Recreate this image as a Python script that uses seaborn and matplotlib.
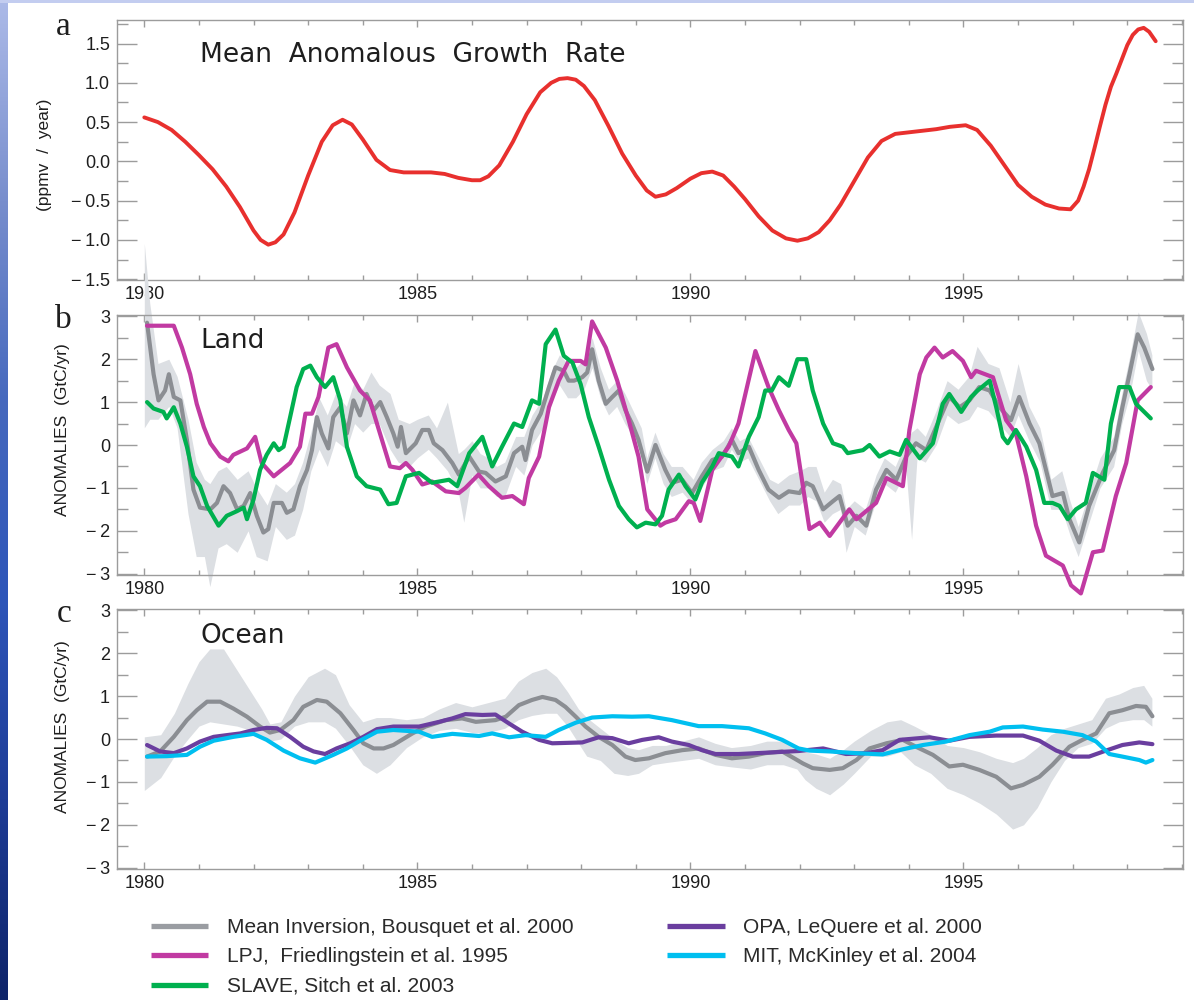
import numpy as np
import matplotlib
matplotlib.use("Agg")
import matplotlib.pyplot as plt
from matplotlib.lines import Line2D
from matplotlib.ticker import MultipleLocator, FixedLocator, FuncFormatter
import seaborn as sns

# ---------------- panel a: mean anomalous growth rate (ppmv / year)
growth_year = [1980.0, 1980.25, 1980.5, 1980.75, 1981.0, 1981.25, 1981.5, 1981.75, 1982.0, 1982.13,
               1982.27, 1982.4, 1982.55, 1982.75, 1983.0, 1983.25, 1983.45, 1983.63, 1983.8, 1984.0,
               1984.25, 1984.5, 1984.75, 1985.0, 1985.25, 1985.5, 1985.75, 1986.0, 1986.15, 1986.3,
               1986.5, 1986.75, 1987.0, 1987.25, 1987.45, 1987.6, 1987.75, 1987.9, 1988.05, 1988.25,
               1988.5, 1988.75, 1989.0, 1989.2, 1989.36, 1989.55, 1989.75, 1990.0, 1990.2, 1990.4,
               1990.6, 1990.8, 1991.0, 1991.25, 1991.5, 1991.75, 1991.96, 1992.15, 1992.35, 1992.55,
               1992.75, 1993.0, 1993.25, 1993.5, 1993.75, 1994.0, 1994.25, 1994.5, 1994.75, 1995.04,
               1995.25, 1995.5, 1995.75, 1996.0, 1996.25, 1996.5, 1996.75, 1996.96, 1997.1, 1997.2,
               1997.3, 1997.4, 1997.5, 1997.6, 1997.7, 1997.8, 1997.9, 1998.0, 1998.1, 1998.2,
               1998.3, 1998.4, 1998.52]
growth_rate = [0.56, 0.50, 0.40, 0.25, 0.08, -0.10, -0.32, -0.58, -0.88, -1.00,
               -1.06, -1.03, -0.93, -0.65, -0.18, 0.25, 0.46, 0.53, 0.47, 0.28,
               0.02, -0.11, -0.14, -0.14, -0.14, -0.16, -0.21, -0.24, -0.24, -0.19,
               -0.05, 0.25, 0.60, 0.88, 1.00, 1.05, 1.06, 1.04, 0.96, 0.78,
               0.45, 0.10, -0.18, -0.37, -0.45, -0.42, -0.34, -0.22, -0.15, -0.13,
               -0.18, -0.32, -0.48, -0.70, -0.88, -0.98, -1.01, -0.98, -0.90, -0.75,
               -0.55, -0.25, 0.05, 0.26, 0.35, 0.37, 0.39, 0.41, 0.44, 0.46,
               0.40, 0.20, -0.05, -0.30, -0.45, -0.55, -0.60, -0.61, -0.50, -0.32,
               -0.10, 0.17, 0.45, 0.72, 0.95, 1.12, 1.30, 1.48, 1.61, 1.68,
               1.70, 1.65, 1.53]

# ---------------- panel b: land flux anomalies (GtC/yr)
inv_land_year = [1980.05, 1980.17, 1980.26, 1980.38, 1980.45, 1980.54, 1980.66, 1980.78, 1980.9, 1981.02,
                 1981.21, 1981.33, 1981.45, 1981.57, 1981.7, 1981.82, 1981.94, 1982.06, 1982.18, 1982.27,
                 1982.37, 1982.52, 1982.61, 1982.73, 1982.85, 1982.98, 1983.07, 1983.16, 1983.25, 1983.37,
                 1983.46, 1983.59, 1983.71, 1983.83, 1983.95, 1984.07, 1984.2, 1984.32, 1984.44, 1984.56,
                 1984.64, 1984.7, 1984.79, 1984.97, 1985.09, 1985.21, 1985.3, 1985.46, 1985.64, 1985.76,
                 1985.95, 1986.13, 1986.25, 1986.43, 1986.62, 1986.77, 1986.92, 1986.98, 1987.1, 1987.26,
                 1987.41, 1987.53, 1987.68, 1987.77, 1987.87, 1988.02, 1988.11, 1988.2, 1988.32, 1988.45,
                 1988.57, 1988.69, 1988.81, 1988.93, 1989.05, 1989.21, 1989.36, 1989.54, 1989.66, 1989.85,
                 1990.03, 1990.21, 1990.4, 1990.58, 1990.76, 1990.88, 1991.07, 1991.25, 1991.43, 1991.62,
                 1991.8, 1992.0, 1992.12, 1992.24, 1992.43, 1992.61, 1992.73, 1992.88, 1993.04, 1993.22,
                 1993.4, 1993.59, 1993.77, 1993.95, 1994.13, 1994.32, 1994.5, 1994.74, 1994.93, 1995.11,
                 1995.29, 1995.48, 1995.66, 1995.87, 1996.02, 1996.21, 1996.39, 1996.63, 1996.82, 1996.94,
                 1997.12, 1997.3, 1997.55, 1997.76, 1997.91, 1998.04, 1998.19, 1998.31, 1998.46]
inv_land = [2.85, 1.65, 1.04, 1.27, 1.65, 1.12, 1.04, 0.12, -1.04, -1.46,
            -1.50, -1.35, -0.96, -1.12, -1.50, -1.42, -1.12, -1.65, -2.04, -1.96,
            -1.35, -1.35, -1.58, -1.50, -0.96, -0.58, -0.12, 0.65, 0.27, -0.08,
            0.65, 0.88, 0.27, 1.04, 0.69, 1.19, 0.81, 1.00, 0.65, 0.27,
            -0.04, 0.42, -0.19, 0.04, 0.35, 0.35, 0.04, -0.12, -0.42, -0.69,
            -0.27, -0.62, -0.65, -0.85, -0.73, -0.19, -0.04, -0.35, 0.35, 0.73,
            1.35, 1.81, 1.73, 1.50, 1.50, 1.58, 1.69, 2.23, 1.50, 0.96,
            1.12, 1.27, 0.81, 0.50, 0.12, -0.62, 0.00, -0.58, -0.88, -0.81,
            -1.12, -0.73, -0.35, -0.27, 0.12, -0.19, -0.04, -0.58, -1.04, -1.23,
            -1.08, -1.12, -0.88, -0.96, -1.50, -1.31, -1.19, -1.88, -1.65, -1.88,
            -1.04, -0.58, -0.81, -0.27, 0.04, -0.12, 0.42, 1.12, 0.88, 1.04,
            1.35, 1.27, 0.88, 0.58, 1.12, 0.50, 0.04, -1.19, -1.12, -1.73,
            -2.27, -1.42, -0.65, -0.12, 0.88, 1.65, 2.58, 2.27, 1.77]

band_land_year = [1980.0, 1980.1, 1980.25, 1980.45, 1980.6, 1980.8, 1980.95, 1981.1, 1981.2, 1981.35,
                  1981.5, 1981.7, 1981.9, 1982.05, 1982.25, 1982.4, 1982.6, 1982.75, 1982.9, 1983.05,
                  1983.2, 1983.35, 1983.5, 1983.7, 1983.85, 1984.0, 1984.15, 1984.3, 1984.5, 1984.65,
                  1984.85, 1985.0, 1985.2, 1985.35, 1985.55, 1985.75, 1985.85, 1986.0, 1986.15, 1986.3,
                  1986.45, 1986.6, 1986.8, 1986.95, 1987.1, 1987.3, 1987.45, 1987.6, 1987.75, 1987.9,
                  1988.05, 1988.2, 1988.35, 1988.5, 1988.65, 1988.8, 1988.95, 1989.1, 1989.2, 1989.35,
                  1989.5, 1989.65, 1989.85, 1990.05, 1990.2, 1990.4, 1990.6, 1990.75, 1990.9, 1991.05,
                  1991.25, 1991.45, 1991.6, 1991.8, 1992.0, 1992.15, 1992.3, 1992.45, 1992.6, 1992.75,
                  1992.85, 1993.0, 1993.2, 1993.4, 1993.55, 1993.75, 1993.95, 1994.05, 1994.15, 1994.3,
                  1994.5, 1994.7, 1994.9, 1995.1, 1995.25, 1995.45, 1995.65, 1995.85, 1996.0, 1996.2,
                  1996.4, 1996.6, 1996.8, 1996.95, 1997.1, 1997.3, 1997.5, 1997.75, 1997.9, 1998.05,
                  1998.2, 1998.35, 1998.45]
band_land_low = [0.4, 0.6, 0.6, 0.9, 0.4, -1.6, -2.6, -2.6, -3.3, -2.4,
                 -2.3, -2.5, -2.0, -2.6, -2.7, -1.9, -2.2, -2.1, -1.5, -0.6,
                 -0.1, -0.5, 0.1, -0.1, 0.5, 0.3, 0.5, 0.5, -0.1, -0.4,
                 -0.5, -0.3, -0.1, -0.3, -0.6, -1.1, -1.8, -0.7, -1.0, -1.0,
                 -1.2, -1.2, -0.5, -0.7, 0.0, 0.4, 1.0, 1.4, 1.1, 1.1,
                 1.3, 1.8, 1.1, 0.7, 0.9, 0.5, 0.2, -0.2, -0.9, -0.3,
                 -0.9, -1.2, -1.1, -1.4, -1.0, -0.6, -0.5, -0.1, -0.4, -0.3,
                 -0.8, -1.3, -1.6, -1.4, -1.4, -1.2, -1.3, -1.8, -1.6, -1.5,
                 -2.5, -1.9, -2.1, -1.3, -0.9, -1.1, -0.6, -2.2, -0.3, -0.4,
                 0.0, 0.7, 0.5, 0.6, 0.9, 0.8, 0.5, 0.2, 0.7, 0.1,
                 -0.4, -1.5, -1.5, -2.1, -2.6, -1.8, -1.0, -0.5, 0.5, 1.2,
                 2.2, 1.5, 1.3]
band_land_high = [4.7, 3.3, 1.9, 2.0, 1.6, 0.6, -0.4, -0.8, -0.9, -0.6,
                  -0.5, -0.8, -0.6, -1.0, -1.4, -0.9, -1.1, -0.9, -0.4, 0.3,
                  1.1, 0.7, 1.2, 0.9, 1.5, 1.3, 1.7, 1.4, 1.2, 0.6,
                  0.5, 0.6, 0.7, 0.4, 1.0, -0.2, -0.1, 0.1, -0.2, -0.3,
                  -0.5, -0.4, 0.2, 0.2, 0.7, 1.1, 1.7, 2.1, 1.9, 1.8,
                  2.0, 2.5, 1.8, 1.3, 1.5, 1.2, 0.8, 0.4, -0.3, 0.3,
                  -0.2, -0.5, -0.5, -0.8, -0.4, -0.1, 0.1, 0.4, 0.1, 0.2,
                  -0.3, -0.8, -0.9, -0.7, -0.6, -0.5, -0.5, -1.1, -0.8, -0.9,
                  -1.5, -1.3, -1.5, -0.7, -0.3, -0.5, 0.1, 0.3, 0.4, 0.2,
                  0.8, 1.5, 1.3, 1.6, 2.3, 1.9, 1.8, 1.0, 1.9, 0.9,
                  0.4, -0.8, -0.6, -1.3, -1.9, -1.1, -0.3, 0.2, 1.2, 2.1,
                  3.1, 2.6, 2.1]

lpj_year = [1980.05, 1980.54, 1980.69, 1980.84, 1980.96, 1981.09, 1981.21, 1981.39, 1981.54, 1981.63,
            1981.88, 1982.03, 1982.15, 1982.37, 1982.67, 1982.85, 1982.95, 1983.07, 1983.19, 1983.37,
            1983.52, 1983.71, 1983.95, 1984.13, 1984.26, 1984.5, 1984.68, 1984.79, 1984.91, 1985.09,
            1985.27, 1985.52, 1985.76, 1985.88, 1986.12, 1986.31, 1986.55, 1986.74, 1986.95, 1987.04,
            1987.23, 1987.41, 1987.59, 1987.77, 1987.99, 1988.08, 1988.2, 1988.45, 1988.66, 1988.87,
            1989.05, 1989.21, 1989.45, 1989.54, 1989.73, 1989.97, 1990.06, 1990.18, 1990.4, 1990.7,
            1990.88, 1991.19, 1991.43, 1991.62, 1991.8, 1991.94, 1992.18, 1992.37, 1992.55, 1992.91,
            1993.04, 1993.4, 1993.59, 1993.89, 1994.01, 1994.2, 1994.32, 1994.47, 1994.62, 1994.8,
            1994.99, 1995.14, 1995.23, 1995.54, 1995.78, 1995.96, 1996.15, 1996.33, 1996.51, 1996.82,
            1996.97, 1997.15, 1997.37, 1997.55, 1997.79, 1997.98, 1998.19, 1998.43]
lpj_land = [2.78, 2.78, 2.27, 1.65, 0.96, 0.42, 0.04, -0.27, -0.38, -0.23,
            -0.08, 0.19, -0.42, -0.73, -0.42, -0.04, 0.73, 0.73, 1.12, 2.27,
            2.35, 1.81, 1.27, 1.04, 0.50, -0.50, -0.54, -0.42, -0.58, -0.92,
            -0.85, -1.08, -1.12, -1.00, -0.69, -0.96, -1.23, -1.19, -1.38, -0.77,
            -0.27, 0.88, 1.50, 1.96, 1.96, 1.88, 2.88, 2.27, 1.50, 0.58,
            -0.27, -1.50, -1.88, -1.81, -1.73, -1.31, -1.35, -1.77, -0.58, -0.04,
            0.50, 2.19, 1.35, 0.81, 0.35, 0.04, -1.96, -1.81, -2.12, -1.50,
            -1.73, -1.35, -0.77, -0.96, 0.35, 1.65, 2.04, 2.27, 2.04, 2.19,
            1.96, 1.58, 1.73, 1.58, 0.58, 0.27, -0.73, -1.88, -2.58, -2.81,
            -3.27, -3.46, -2.50, -2.46, -1.19, -0.42, 1.04, 1.35]

slave_year = [1980.05, 1980.17, 1980.35, 1980.41, 1980.54, 1980.66, 1980.78, 1980.9, 1981.02, 1981.15,
              1981.36, 1981.51, 1981.7, 1981.82, 1981.88, 1982.0, 1982.12, 1982.24, 1982.37, 1982.46,
              1982.55, 1982.67, 1982.79, 1982.91, 1983.04, 1983.16, 1983.31, 1983.46, 1983.59, 1983.71,
              1983.89, 1984.07, 1984.32, 1984.47, 1984.62, 1984.79, 1985.03, 1985.27, 1985.58, 1985.73,
              1985.95, 1986.19, 1986.37, 1986.55, 1986.77, 1986.92, 1987.1, 1987.23, 1987.35, 1987.53,
              1987.68, 1987.84, 1987.99, 1988.14, 1988.32, 1988.51, 1988.69, 1988.87, 1989.02, 1989.18,
              1989.36, 1989.48, 1989.6, 1989.79, 1989.91, 1990.09, 1990.21, 1990.4, 1990.52, 1990.76,
              1990.88, 1991.07, 1991.25, 1991.37, 1991.49, 1991.62, 1991.8, 1991.96, 1992.12, 1992.24,
              1992.43, 1992.61, 1992.79, 1992.88, 1993.16, 1993.28, 1993.46, 1993.65, 1993.83, 1993.95,
              1994.2, 1994.44, 1994.62, 1994.74, 1994.96, 1995.14, 1995.26, 1995.48, 1995.6, 1995.72,
              1995.81, 1995.96, 1996.15, 1996.33, 1996.48, 1996.63, 1996.76, 1996.91, 1997.06, 1997.24,
              1997.37, 1997.58, 1997.7, 1997.85, 1998.04, 1998.16, 1998.43]
slave_land = [1.00, 0.85, 0.77, 0.62, 0.88, 0.50, -0.04, -0.73, -0.96, -1.42,
              -1.88, -1.65, -1.54, -1.46, -1.73, -1.27, -0.58, -0.23, 0.04, -0.12,
              -0.04, 0.65, 1.35, 1.77, 1.85, 1.58, 1.35, 1.58, 1.04, -0.04,
              -0.73, -0.96, -1.04, -1.38, -1.35, -0.73, -0.65, -0.88, -0.81, -0.96,
              -0.19, 0.19, -0.50, -0.04, 0.50, 0.42, 1.04, 0.96, 2.35, 2.69,
              2.08, 1.92, 1.42, 0.65, -0.04, -0.81, -1.42, -1.73, -1.92, -1.81,
              -1.85, -1.65, -1.04, -0.69, -0.96, -1.27, -0.88, -0.50, -0.19, -0.27,
              -0.50, 0.19, 0.65, 1.27, 1.27, 1.58, 1.38, 2.00, 2.00, 1.27,
              0.50, 0.04, -0.04, -0.19, -0.12, 0.00, -0.27, -0.15, -0.23, 0.12,
              -0.31, 0.04, 0.96, 1.19, 0.77, 1.12, 1.27, 1.50, 0.88, 0.19,
              0.04, 0.35, -0.04, -0.58, -1.35, -1.35, -1.42, -1.73, -1.50, -1.35,
              -0.65, -0.81, 0.50, 1.35, 1.35, 0.96, 0.62]

# ---------------- panel c: ocean flux anomalies (GtC/yr)
inv_ocean_year = [1980.05, 1980.29, 1980.54, 1980.78, 1980.96, 1981.15, 1981.39, 1981.63, 1981.88, 1982.12,
                  1982.3, 1982.49, 1982.73, 1982.91, 1983.16, 1983.34, 1983.59, 1983.83, 1984.01, 1984.2,
                  1984.38, 1984.56, 1984.91, 1985.15, 1985.52, 1985.82, 1986.07, 1986.43, 1986.62, 1986.86,
                  1987.1, 1987.29, 1987.53, 1987.71, 1987.9, 1988.08, 1988.32, 1988.57, 1988.81, 1988.99,
                  1989.24, 1989.54, 1989.85, 1990.15, 1990.46, 1990.76, 1991.07, 1991.37, 1991.68, 1991.9,
                  1992.06, 1992.24, 1992.55, 1992.79, 1993.04, 1993.28, 1993.59, 1993.89, 1994.13, 1994.44,
                  1994.74, 1994.99, 1995.29, 1995.6, 1995.87, 1996.09, 1996.39, 1996.63, 1996.94, 1997.18,
                  1997.43, 1997.67, 1997.91, 1998.16, 1998.34, 1998.46]
inv_ocean = [-0.41, -0.29, 0.05, 0.44, 0.67, 0.87, 0.87, 0.71, 0.52, 0.29,
             0.15, 0.21, 0.44, 0.75, 0.91, 0.87, 0.60, 0.21, -0.10, -0.22,
             -0.22, -0.14, 0.13, 0.29, 0.44, 0.48, 0.40, 0.44, 0.52, 0.79,
             0.91, 0.98, 0.91, 0.75, 0.52, 0.29, 0.05, -0.14, -0.41, -0.49,
             -0.45, -0.33, -0.26, -0.22, -0.37, -0.45, -0.41, -0.33, -0.29, -0.45,
             -0.57, -0.68, -0.72, -0.68, -0.49, -0.22, -0.10, -0.02, -0.18, -0.37,
             -0.64, -0.60, -0.72, -0.88, -1.15, -1.07, -0.88, -0.60, -0.18, -0.02,
             0.13, 0.60, 0.67, 0.77, 0.75, 0.53]

band_ocean_year = [1980.0, 1980.3, 1980.55, 1980.8, 1981.0, 1981.2, 1981.45, 1981.7, 1981.95, 1982.15,
                   1982.3, 1982.5, 1982.75, 1983.0, 1983.3, 1983.5, 1983.75, 1984.0, 1984.25, 1984.5,
                   1984.8, 1985.1, 1985.4, 1985.7, 1986.0, 1986.3, 1986.6, 1986.85, 1987.1, 1987.35,
                   1987.55, 1987.75, 1987.95, 1988.1, 1988.35, 1988.6, 1988.85, 1989.05, 1989.3, 1989.55,
                   1989.85, 1990.15, 1990.45, 1990.75, 1991.1, 1991.4, 1991.7, 1991.95, 1992.1, 1992.3,
                   1992.55, 1992.8, 1993.0, 1993.3, 1993.6, 1993.85, 1994.1, 1994.4, 1994.7, 1995.0,
                   1995.3, 1995.6, 1995.9, 1996.1, 1996.35, 1996.6, 1996.85, 1997.1, 1997.35, 1997.6,
                   1997.85, 1998.1, 1998.3, 1998.45]
band_ocean_low = [-1.20, -0.90, -0.40, 0.00, 0.30, 0.40, 0.35, 0.30, 0.20, 0.05,
                  -0.05, 0.00, 0.30, 0.40, 0.40, 0.25, -0.15, -0.60, -0.80, -0.60,
                  -0.20, 0.05, 0.20, 0.25, 0.15, 0.15, 0.25, 0.45, 0.55, 0.60,
                  0.60, 0.30, -0.10, -0.40, -0.50, -0.80, -0.85, -0.80, -0.60, -0.55,
                  -0.50, -0.45, -0.60, -0.65, -0.70, -0.60, -0.60, -0.70, -0.95, -1.15,
                  -1.30, -1.05, -0.80, -0.40, -0.40, -0.30, -0.60, -0.80, -1.15, -1.30,
                  -1.50, -1.75, -2.10, -2.00, -1.60, -1.00, -0.50, -0.20, -0.10, 0.25,
                  0.40, 0.45, 0.45, 0.30]
band_ocean_high = [0.05, 0.10, 0.60, 1.30, 1.80, 2.10, 2.10, 1.60, 1.10, 0.70,
                   0.35, 0.40, 1.00, 1.45, 1.65, 1.50, 0.80, 0.40, 0.50, 0.50,
                   0.45, 0.50, 0.70, 0.85, 0.75, 0.85, 0.95, 1.35, 1.55, 1.65,
                   1.45, 1.10, 0.70, 0.50, 0.25, 0.00, -0.20, -0.25, -0.15, -0.15,
                   -0.05, 0.05, -0.10, -0.20, -0.15, -0.05, -0.05, -0.15, -0.30, -0.35,
                   -0.45, -0.25, -0.05, 0.20, 0.40, 0.45, 0.30, 0.10, -0.15, -0.20,
                   -0.30, -0.45, -0.55, -0.45, -0.20, 0.10, 0.25, 0.35, 0.45, 0.95,
                   1.05, 1.20, 1.25, 0.95]

opa_year = [1980.05, 1980.29, 1980.54, 1980.78, 1981.02, 1981.27, 1981.51, 1981.76, 1982.0, 1982.24,
            1982.43, 1982.67, 1982.91, 1983.1, 1983.31, 1983.52, 1983.77, 1984.01, 1984.26, 1984.56,
            1985.03, 1985.4, 1985.64, 1985.88, 1986.19, 1986.43, 1986.68, 1986.92, 1987.23, 1987.47,
            1988.02, 1988.32, 1988.57, 1988.87, 1989.12, 1989.42, 1989.66, 1989.97, 1990.21, 1990.46,
            1990.88, 1991.37, 1991.98, 1992.43, 1992.85, 1993.22, 1993.52, 1993.83, 1994.38, 1994.74,
            1995.11, 1995.6, 1996.09, 1996.39, 1996.7, 1997.0, 1997.3, 1997.61, 1997.91, 1998.22,
            1998.46]
opa_ocean = [-0.14, -0.29, -0.33, -0.22, -0.06, 0.05, 0.09, 0.13, 0.21, 0.26,
             0.25, 0.05, -0.18, -0.29, -0.35, -0.22, -0.10, 0.05, 0.23, 0.29,
             0.29, 0.40, 0.48, 0.58, 0.56, 0.57, 0.36, 0.17, -0.02, -0.10,
             -0.08, 0.04, 0.02, -0.10, -0.02, 0.04, -0.06, -0.14, -0.26, -0.35,
             -0.35, -0.32, -0.28, -0.22, -0.35, -0.33, -0.26, -0.02, 0.04, -0.04,
             0.05, 0.08, 0.08, -0.04, -0.27, -0.41, -0.41, -0.27, -0.14, -0.08,
             -0.12]

mit_year = [1980.05, 1980.41, 1980.78, 1981.02, 1981.27, 1981.63, 1982.0, 1982.24, 1982.55, 1982.85,
            1983.13, 1983.46, 1983.71, 1983.95, 1984.26, 1984.56, 1985.03, 1985.27, 1985.64, 1986.13,
            1986.37, 1986.68, 1986.98, 1987.35, 1987.59, 1987.9, 1988.2, 1988.57, 1988.93, 1989.24,
            1989.66, 1990.15, 1990.58, 1991.07, 1991.37, 1991.68, 1991.98, 1992.18, 1992.55, 1993.04,
            1993.52, 1993.89, 1994.26, 1994.68, 1995.11, 1995.48, 1995.72, 1996.09, 1996.45, 1996.82,
            1997.18, 1997.43, 1997.67, 1997.91, 1998.22, 1998.34, 1998.46]
mit_ocean = [-0.41, -0.40, -0.37, -0.18, -0.04, 0.05, 0.12, -0.02, -0.27, -0.45,
             -0.55, -0.37, -0.22, -0.04, 0.17, 0.21, 0.17, 0.05, 0.12, 0.07,
             0.13, 0.04, 0.09, 0.05, 0.21, 0.38, 0.50, 0.53, 0.52, 0.53,
             0.44, 0.30, 0.30, 0.25, 0.13, -0.02, -0.22, -0.27, -0.29, -0.33,
             -0.36, -0.24, -0.14, -0.06, 0.09, 0.17, 0.27, 0.29, 0.22, 0.17,
             0.09, -0.06, -0.35, -0.41, -0.49, -0.55, -0.49]

year_ticks = [1980, 1985, 1990, 1995]

legend_labels = ["Mean Inversion, Bousquet et al. 2000",
                 "LPJ,  Friedlingstein et al. 1995",
                 "SLAVE, Sitch et al. 2003",
                 "OPA, LeQuere et al. 2000",
                 "MIT, McKinley et al. 2004"]

# colours
RED = "#e8302e"
GREY = "#8b8e93"
BAND = "#dcdfe3"
MAGENTA = "#c13aa2"
GREEN = "#00b04f"
PURPLE = "#6a3e9f"
CYAN = "#00bff0"
SPINE = "#9c9c9c"

sns.set_style("ticks")
plt.rcParams["font.family"] = ["Liberation Sans", "DejaVu Sans"]
plt.rcParams["axes.unicode_minus"] = True

W, H = 1194, 1000
fig = plt.figure(figsize=(W / 100, H / 100), dpi=100)
fig.patch.set_facecolor("white")

# blue slide border: left strip with a vertical gradient, thin strip along the top
stops = np.array([[172, 186, 232], [120, 142, 205], [70, 105, 190], [45, 85, 185], [30, 60, 150], [14, 36, 105]]) / 255.0
pos = np.linspace(0, 1, len(stops))
g = np.linspace(0, 1, 400)
grad = np.stack([np.interp(g, pos, stops[:, k]) for k in range(3)], axis=1)[:, None, :]
ax_strip = fig.add_axes([0, 0, 8 / W, 1])
ax_strip.imshow(grad, aspect="auto", extent=[0, 1, 0, 1])
ax_strip.set_axis_off()
ax_top = fig.add_axes([0, 1 - 3 / H, 1, 3 / H])
ax_top.set_facecolor("#c3cdf0")
ax_top.set_xticks([]); ax_top.set_yticks([])
for s in ax_top.spines.values():
    s.set_visible(False)


def fmt_minus(decimals):
    def f(v, _):
        v = round(v, 3) + 0.0
        txt = f"{abs(v):.{decimals}f}"
        return ("\u2212\u2009" + txt) if v < 0 else txt
    return FuncFormatter(f)


def panel(top_px, bottom_px, ylim, ymaj, ymin, decimals):
    ax = fig.add_axes([117 / W, 1 - bottom_px / H, (1183 - 117) / W, (bottom_px - top_px) / H])
    ax.set_xlim(1979.5, 1999.02)
    ax.set_ylim(*ylim)
    ax.xaxis.set_major_locator(FixedLocator(year_ticks))
    ax.xaxis.set_minor_locator(MultipleLocator(1))
    ax.yaxis.set_major_locator(MultipleLocator(ymaj))
    ax.yaxis.set_minor_locator(MultipleLocator(ymin))
    ax.yaxis.set_major_formatter(fmt_minus(decimals))
    ax.tick_params(which="both", direction="in", top=True, right=True, color=SPINE, width=1)
    ax.tick_params(axis="y", which="major", length=14.5, pad=5, labelsize=13)
    ax.tick_params(axis="y", which="minor", length=8)
    ax.tick_params(axis="x", which="major", length=5, pad=4.5, labelsize=13)
    ax.tick_params(axis="x", which="minor", length=3.6)
    ax.tick_params(labelcolor="#1e1e1e")
    for s in ax.spines.values():
        s.set_color(SPINE)
        s.set_linewidth(1.0)
    return ax


# ---- panel a
ax_a = panel(20, 280, (-1.51, 1.80), 0.5, 0.25, 1)
sns.lineplot(x=growth_year, y=growth_rate, ax=ax_a, color=RED, linewidth=2.8)

# ---- panel b
ax_b = panel(315, 575, (-3.03, 3.03), 1, 0.5, 0)
ax_b.fill_between(band_land_year, band_land_low, band_land_high, color=BAND, linewidth=0,
                  clip_on=False, zorder=1)
sns.lineplot(x=inv_land_year, y=inv_land, ax=ax_b, color=GREY, linewidth=3, zorder=2, clip_on=False)
sns.lineplot(x=lpj_year, y=lpj_land, ax=ax_b, color=MAGENTA, linewidth=3, zorder=3, clip_on=False)
sns.lineplot(x=slave_year, y=slave_land, ax=ax_b, color=GREEN, linewidth=3, zorder=4)

# ---- panel c
ax_c = panel(609, 869, (-3.03, 3.03), 1, 0.5, 0)
ax_c.fill_between(band_ocean_year, band_ocean_low, band_ocean_high, color=BAND, linewidth=0, zorder=1)
sns.lineplot(x=inv_ocean_year, y=inv_ocean, ax=ax_c, color=GREY, linewidth=3, zorder=2)
sns.lineplot(x=opa_year, y=opa_ocean, ax=ax_c, color=PURPLE, linewidth=3, zorder=3)
sns.lineplot(x=mit_year, y=mit_ocean, ax=ax_c, color=CYAN, linewidth=3, zorder=4)

for ax in (ax_a, ax_b, ax_c):
    ax.set_xlabel("")
    ax.set_ylabel("")
    if ax.get_legend() is not None:
        ax.get_legend().remove()

# panel titles
title_kw = dict(ha="left", va="center", color="#1e1e1e", family=["DejaVu Sans"], size=19)
fig.text(200 / W, 1 - 55 / H, "Mean  Anomalous  Growth  Rate", **title_kw)
fig.text(200 / W, 1 - 341 / H, "Land", **title_kw)
fig.text(200 / W, 1 - 636 / H, "Ocean", **title_kw)

# panel letters
letter_kw = dict(ha="center", va="center", color="#1e1e1e", family=["Liberation Serif", "DejaVu Serif"], size=24)
fig.text(63 / W, 1 - 27 / H, "a", **letter_kw)
fig.text(63 / W, 1 - 320 / H, "b", **letter_kw)
fig.text(64 / W, 1 - 614 / H, "c", **letter_kw)

# axis labels
ylab_kw = dict(rotation=90, ha="center", va="center", color="#1e1e1e", size=12.5)
fig.text(45 / W, 1 - 155 / H, "(ppmv  /  year)", **ylab_kw)
fig.text(63 / W, 1 - 430 / H, "ANOMALIES  (GtC/yr)", **ylab_kw)
fig.text(63 / W, 1 - 727 / H, "ANOMALIES  (GtC/yr)", **ylab_kw)

# shared legend beneath the panels
handle_colors = ["#9a9da2", MAGENTA, GREEN, PURPLE, CYAN]
handles = [Line2D([], [], color=c, linewidth=3.8, solid_capstyle="butt") for c in handle_colors]
leg = fig.legend(handles, legend_labels, ncol=2, loc="upper left",
                 bbox_to_anchor=(151 / W, 1 - 918 / H), frameon=False,
                 prop={"family": ["Liberation Sans"], "size": 15},
                 handlelength=2.75, handletextpad=0.9, columnspacing=4.5,
                 labelspacing=0.50, borderpad=0, borderaxespad=0)
for t in leg.get_texts():
    t.set_color("#2a2a2a")

fig.savefig("out.png", dpi=100)
